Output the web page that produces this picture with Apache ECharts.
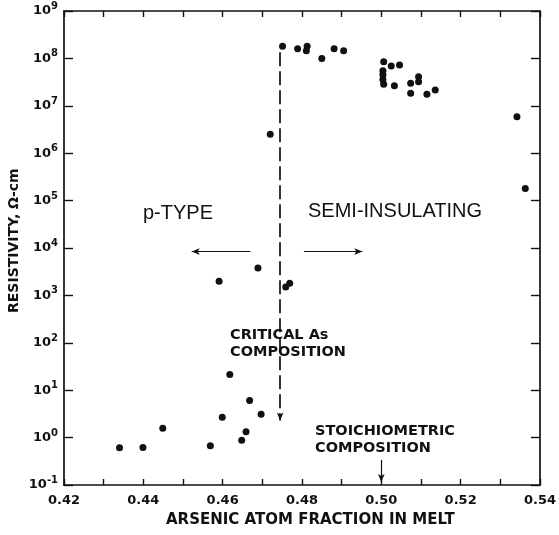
<!DOCTYPE html>
<html>
<head>
<meta charset="utf-8">
<script src="https://cdn.jsdelivr.net/npm/echarts@6/dist/echarts.min.js"></script>
<style>
  html, body { margin: 0; padding: 0; background: #fff; }
  #chart { width: 559px; height: 535px; }
</style>
</head>
<body>
<div id="chart"></div>
<script>
// Arsenic atom fraction in the melt (x) and measured resistivity in ohm-cm (y)
const fraction = [
  0.4751, 0.4789, 0.4813, 0.4811, 0.4850, 0.4881, 0.4905,
  0.5006, 0.5025, 0.5046, 0.5004, 0.5004, 0.5004, 0.5006, 0.5033,
  0.5074, 0.5094, 0.5094, 0.5074, 0.5115, 0.5136,
  0.5342, 0.5363,
  0.4720, 0.4689, 0.4591, 0.4769, 0.4759,
  0.4618, 0.4668, 0.4697, 0.4599, 0.4659, 0.4648, 0.4569, 0.4449, 0.4340, 0.4399
];
const resistivity = [
  1.8e8, 1.6e8, 1.8e8, 1.45e8, 1.0e8, 1.6e8, 1.45e8,
  8.5e7, 6.9e7, 7.3e7, 5.5e7, 4.5e7, 3.6e7, 2.85e7, 2.65e7,
  3.0e7, 4.1e7, 3.2e7, 1.85e7, 1.75e7, 2.15e7,
  5.9e6, 1.8e5,
  2.5e6, 3.8e3, 2.0e3, 1.8e3, 1.5e3,
  21.5, 6.1, 3.1, 2.7, 1.33, 0.88, 0.67, 1.57, 0.61, 0.62
];

// Axis ticks and labels
const xTickLabels = ['0.42', '0.44', '0.46', '0.48', '0.50', '0.52', '0.54'];
const yTickExponents = [-1, 0, 1, 2, 3, 4, 5, 6, 7, 8, 9];

// Critical As composition (dashed boundary) and stoichiometric composition
const criticalX = [0.4745, 0.4745];
const criticalY = [1.35e8, 2.3];
const stoichX = [0.50, 0.50];
const stoichY = [0.34, 0.115];
// Region arrows at the p-type / semi-insulating labels
const pTypeArrowX = [0.4670, 0.4522];
const semiArrowX = [0.4805, 0.4952];
const arrowY = [8.4e3, 8.4e3];

const ink = '#111';
const font = 'Liberation Sans';
const boldFont = 'DejaVu Sans';

const points = fraction.map((x, i) => [x, resistivity[i]]);

function segment(xs, ys, style) {
  return [{ coord: [xs[0], ys[0]], lineStyle: style }, { coord: [xs[1], ys[1]] }];
}

const chart = echarts.init(document.getElementById('chart'), null, { renderer: 'canvas' });

const axisLine = { show: true, lineStyle: { color: ink, width: 1.7 } };
const thin = { color: ink, width: 1.2, type: 'solid' };

chart.setOption({
  animation: false,
  backgroundColor: '#fff',
  grid: { left: 64, right: 16, top: 11, bottom: 50, containLabel: false },
  xAxis: [
    {
      type: 'value', position: 'bottom', min: 0.42, max: 0.54, interval: 0.01,
      axisLine: axisLine,
      axisTick: { show: true, inside: true, length: 6, lineStyle: { color: ink, width: 1.4 } },
      splitLine: { show: false },
      axisLabel: {
        margin: 9, color: ink, fontFamily: boldFont, fontSize: 13, fontWeight: 'bold',
        formatter: v => {
          const s = v.toFixed(2);
          return xTickLabels.indexOf(s) >= 0 ? s : '';
        }
      }
    },
    {
      type: 'value', position: 'top', min: 0.42, max: 0.54, interval: 0.01,
      axisLine: axisLine,
      axisTick: { show: true, inside: true, length: 6, lineStyle: { color: ink, width: 1.4 } },
      splitLine: { show: false },
      axisLabel: { show: false }
    }
  ],
  yAxis: [
    {
      type: 'log', logBase: 10, position: 'left', min: 0.1, max: 1e9, interval: 1,
      axisLine: axisLine,
      axisTick: { show: true, inside: true, length: 9, lineStyle: { color: ink, width: 1.4 } },
      splitLine: { show: false },
      axisLabel: {
        margin: 6, color: ink, fontFamily: boldFont, fontSize: 13, fontWeight: 'bold',
        formatter: v => {
          const e = Math.round(Math.log10(v));
          return yTickExponents.indexOf(e) >= 0 ? '10{s|' + e + '}' : '';
        },
        rich: {
          s: { fontSize: 10, fontWeight: 'bold', fontFamily: boldFont, color: ink, padding: [0, 0, 9, 0] }
        }
      }
    },
    {
      type: 'log', logBase: 10, position: 'right', min: 0.1, max: 1e9, interval: 1,
      axisLine: axisLine,
      axisTick: { show: true, inside: true, length: 9, lineStyle: { color: ink, width: 1.4 } },
      splitLine: { show: false },
      axisLabel: { show: false }
    }
  ],
  series: [
    {
      type: 'scatter',
      data: points,
      symbol: 'circle',
      symbolSize: 7,
      itemStyle: { color: ink, opacity: 1 },
      markLine: {
        silent: true,
        animation: false,
        label: { show: false },
        emphasis: { disabled: true },
        symbol: ['none', 'arrow'],
        symbolSize: [5, 8],
        data: [
          segment(criticalX, criticalY, { color: ink, width: 1.7, type: [14, 5] }),
          segment(stoichX, stoichY, thin),
          segment(pTypeArrowX, arrowY, thin),
          segment(semiArrowX, arrowY, thin)
        ]
      }
    }
  ],
  graphic: [
    {
      type: 'text', left: 143, top: 203,
      style: { text: 'p-TYPE', font: '20px "' + font + '"', fill: ink }
    },
    {
      type: 'text', left: 308, top: 201,
      style: { text: 'SEMI-INSULATING', font: '20px "' + font + '"', fill: ink }
    },
    {
      type: 'text', left: 230, top: 327,
      style: { text: 'CRITICAL As\nCOMPOSITION', font: 'bold 14.5px "' + boldFont + '"', fill: ink, lineHeight: 17 }
    },
    {
      type: 'text', left: 315, top: 423,
      style: { text: 'STOICHIOMETRIC\nCOMPOSITION', font: 'bold 14.5px "' + boldFont + '"', fill: ink, lineHeight: 17 }
    },
    {
      type: 'text', left: 166, top: 513,
      style: { text: 'ARSENIC ATOM FRACTION IN MELT', font: 'bold 15px "' + boldFont + '"', fill: ink }
    },
    {
      type: 'text', x: 7, y: 313, rotation: Math.PI / 2,
      style: { text: 'RESISTIVITY, \u03A9-cm', font: 'bold 14px "' + boldFont + '"', fill: ink }
    }
  ]
});
</script>
</body>
</html>
